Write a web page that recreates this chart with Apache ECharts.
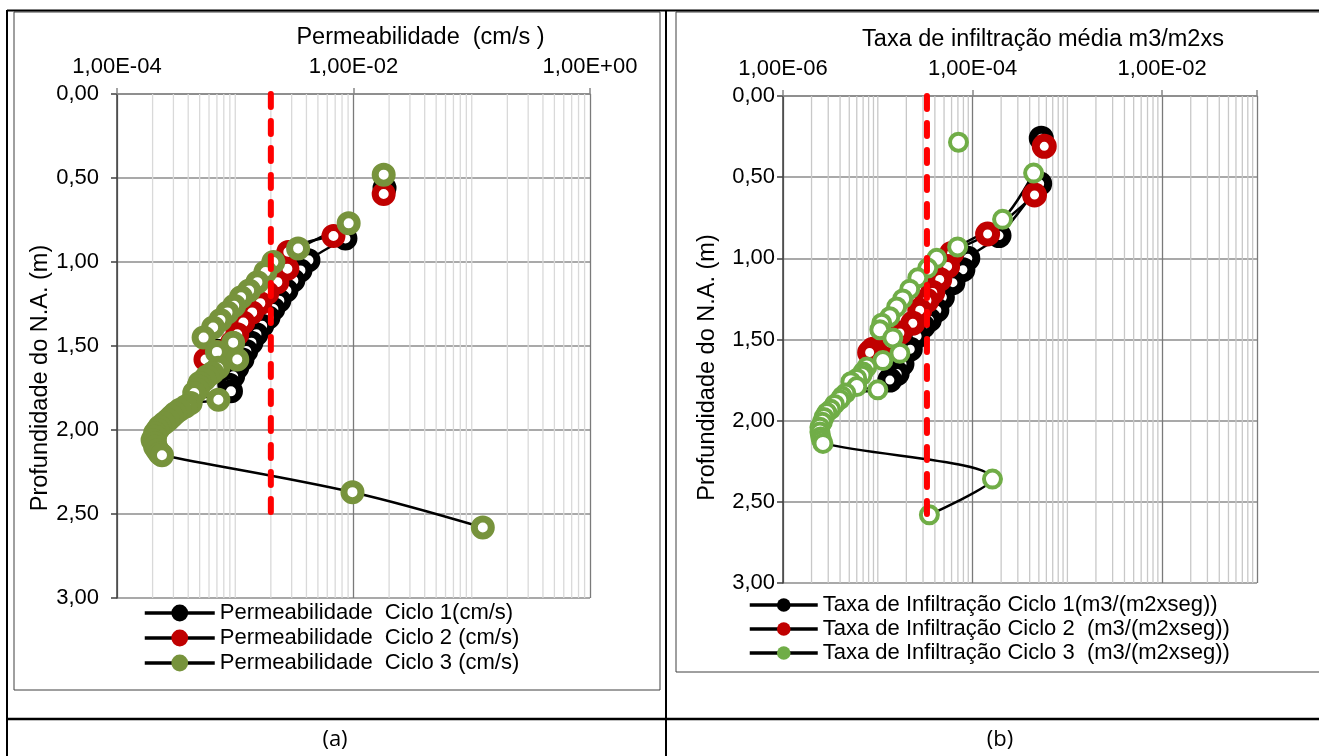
<!DOCTYPE html>
<html>
<head>
<meta charset="utf-8">
<script src="https://cdn.jsdelivr.net/npm/echarts@6/dist/echarts.min.js"></script>
<style>
  html, body { margin: 0; padding: 0; background: #fff; }
  #chart { width: 1319px; height: 756px; }
</style>
</head>
<body>
<div id="chart"></div>
<script>
// Ensaios de infiltração: cada ponto é [valor, profundidade do N.A. (m)].
// null separa um ponto isolado do restante da curva.

// (a) Permeabilidade (cm/s)
const permCiclo1 = [
  [0.0183, 0.56], null,
  [0.00855, 0.86], [0.00416, 0.99], [0.00356, 1.05], [0.00310, 1.11], [0.00271, 1.17],
  [0.00236, 1.23], [0.00210, 1.28], [0.00191, 1.33], [0.00169, 1.38], [0.00151, 1.43],
  [0.00137, 1.48], [0.00124, 1.53], [0.00115, 1.58], [0.00104, 1.63], [0.00096, 1.68],
  [0.00089, 1.73], [0.00092, 1.77]
];
const permCiclo2 = [
  [0.0180, 0.595], null,
  [0.00677, 0.845], [0.00281, 0.94], [0.00276, 1.04], [0.00227, 1.12], [0.00187, 1.185],
  [0.00163, 1.245], [0.00139, 1.30], [0.00117, 1.36], [0.00104, 1.43], [0.00094, 1.48],
  [0.00070, 1.535], [0.00056, 1.58]
];
const permCiclo3 = [
  [0.0180, 0.48], null,
  [0.0091, 0.77], [0.0034, 0.92], [0.0021, 1.00], [0.0018, 1.06], [0.00154, 1.12],
  [0.00131, 1.17], [0.00112, 1.21], [0.00098, 1.26], [0.00086, 1.30], [0.00075, 1.345],
  [0.00065, 1.39], [0.00054, 1.45], [0.00096, 1.48], [0.00070, 1.535], [0.00104, 1.58],
  [0.00072, 1.63], [0.00064, 1.66], [0.00058, 1.68], [0.00055, 1.70], [0.00050, 1.72],
  [0.00049, 1.74], [0.00048, 1.76], [0.00045, 1.78], [0.00072, 1.82], [0.00042, 1.84],
  [0.00038, 1.86], [0.00034, 1.88], [0.00031, 1.90], [0.00029, 1.92], [0.00027, 1.94],
  [0.00025, 1.96], [0.00023, 1.98], [0.00022, 2.00], [0.00021, 2.02], [0.00021, 2.04],
  [0.00020, 2.06], [0.00021, 2.08], [0.00021, 2.10], [0.00022, 2.12], [0.00023, 2.14],
  [0.00024, 2.15],
  [0.0098, 2.37], [0.124, 2.58]
];
const permLimite = [[0.002, 0], [0.002, 2.57]];

// (b) Taxa de infiltração média (m3/(m2 x s))
const taxaCiclo1 = [
  [5.3e-4, 0.26], null,
  [5.1e-4, 0.54], [1.9e-4, 0.86], [8.9e-5, 1.00], [7.9e-5, 1.07], [6.2e-5, 1.15],
  [4.8e-5, 1.24], [4.2e-5, 1.32], [3.5e-5, 1.38], [3.0e-5, 1.42], [2.6e-5, 1.48],
  [2.2e-5, 1.56], [1.8e-5, 1.65], [1.6e-5, 1.71], [1.34e-5, 1.75]
];
const taxaCiclo2 = [
  [5.7e-4, 0.31], null,
  [4.5e-4, 0.61], [1.44e-4, 0.85], [6.0e-5, 0.97], [5.45e-5, 1.05], [4.5e-5, 1.13],
  [3.8e-5, 1.21], [3.3e-5, 1.26], [2.77e-5, 1.32], [2.34e-5, 1.40], [1.71e-5, 1.46],
  [1.34e-5, 1.52], [8.9e-6, 1.56], [8.2e-6, 1.58]
];
const taxaCiclo3 = [
  [7.1e-5, 0.285], null,
  [4.4e-4, 0.475], [2.07e-4, 0.76], [6.95e-5, 0.93], [4.18e-5, 1.00], [3.36e-5, 1.06],
  [2.64e-5, 1.12], [2.17e-5, 1.19], [1.83e-5, 1.25], [1.58e-5, 1.30], [1.34e-5, 1.36],
  [1.10e-5, 1.40], [1.05e-5, 1.44], [1.44e-5, 1.49], [1.71e-5, 1.585], [1.13e-5, 1.63],
  [7.66e-6, 1.67], [7.0e-6, 1.70], [6.8e-6, 1.72], [6.0e-6, 1.74], [5.2e-6, 1.76],
  [6.0e-6, 1.79], [1.0e-5, 1.81], [4.6e-6, 1.83], [4.2e-6, 1.85], [3.98e-6, 1.87],
  [3.5e-6, 1.90], [3.2e-6, 1.93], [2.9e-6, 1.95], [2.7e-6, 1.98], [2.6e-6, 2.01],
  [2.45e-6, 2.04], [2.45e-6, 2.07], [2.5e-6, 2.10], [2.55e-6, 2.12], [2.64e-6, 2.14],
  [1.62e-4, 2.36], [3.5e-5, 2.58]
];
const taxaLimite = [[3.3e-5, 0], [3.3e-5, 2.6]];

const nomesPerm = [
  'Permeabilidade  Ciclo 1(cm/s)',
  'Permeabilidade  Ciclo 2 (cm/s)',
  'Permeabilidade  Ciclo 3 (cm/s)'
];
const nomesTaxa = [
  'Taxa de Infiltração Ciclo 1(m3/(m2xseg))',
  'Taxa de Infiltração Ciclo 2  (m3/(m2xseg))',
  'Taxa de Infiltração Ciclo 3  (m3/(m2xseg))'
];
const depthTicks = [0, 3, 0.5];

const FONT = '"Liberation Sans", Arial, sans-serif';
const C_BLACK = '#000000', C_RED = '#c00000', C_OLIVE = '#77933c', C_GREEN = '#70ad47';

function sciLabel(v) {
  const e = Math.round(Math.log10(v));
  if (e % 2 !== 0) return '';
  return '1,00E' + (e < 0 ? '-' : '+') + String(Math.abs(e)).padStart(2, '0');
}
function depthLabel(v) { return v.toFixed(2).replace('.', ','); }

// light vertical rules at 2..9 of every decade and at the odd decades,
// drawn as broken segments spanning the depth range
function minorRules(minExp, maxExp) {
  const out = [];
  for (let e = minExp; e < maxExp; e++) {
    for (let m = 1; m <= 9; m++) {
      if (m === 1 && e % 2 === 0) continue;
      const v = m * Math.pow(10, e);
      out.push([v, depthTicks[0]], [v, depthTicks[1]], ['-', '-']);
    }
  }
  return out;
}

function xAxisCfg(gi, min, max, title, titleShift) {
  return {
    gridIndex: gi, type: 'log', logBase: 10, min: min, max: max, interval: 2,
    position: 'top',
    name: title, nameLocation: 'middle', nameGap: 44,
    nameTextStyle: { fontFamily: FONT, fontSize: 23.5, color: '#000', padding: [0, 0, 0, titleShift] },
    axisLine: { show: true, lineStyle: { color: '#868686', width: 1.5 } },
    axisTick: { show: true, length: 6, lineStyle: { color: '#868686', width: 1.5 } },
    axisLabel: { formatter: sciLabel, fontFamily: FONT, fontSize: 22, color: '#000', margin: 16, showMaxLabel: true },
    splitLine: { show: true, lineStyle: { color: '#7a7a7a', width: 1.3 } },
    minorTick: { show: false }, minorSplitLine: { show: false }
  };
}
function yAxisCfg(gi, shift, margin) {
  return {
    gridIndex: gi, type: 'value', inverse: true,
    min: depthTicks[0], max: depthTicks[1], interval: depthTicks[2],
    name: 'Profundidade do N.A. (m)', nameLocation: 'middle', nameRotate: 90, nameGap: 63,
    nameTextStyle: { fontFamily: FONT, fontSize: 23.5, color: '#000', padding: [0, shift, 0, 0] },
    axisLine: { show: true, lineStyle: { color: '#404040', width: 1.5 } },
    axisTick: { show: true, length: 6, lineStyle: { color: '#404040', width: 1.5 } },
    axisLabel: { formatter: depthLabel, fontFamily: FONT, fontSize: 22, color: '#000', margin: margin },
    splitLine: { show: true, lineStyle: { color: '#8c8c8c', width: 1.5 } }
  };
}

function cycleSeries(name, data, gi, color, size, border) {
  return {
    name: name, type: 'line', xAxisIndex: gi, yAxisIndex: gi,
    data: data.map(p => p ? p : ['-', '-']),
    smooth: 0.35, connectNulls: false,
    symbol: 'circle', symbolSize: size, showAllSymbol: true,
    lineStyle: { color: '#000', width: 2.5 },
    itemStyle: { color: '#ffffff', borderColor: color, borderWidth: border },
    emphasis: { disabled: true },
    z: 3, animation: false
  };
}
function gridSeries(gi, minExp, maxExp, color) {
  return {
    name: 'grade' + gi, type: 'line', xAxisIndex: gi, yAxisIndex: gi,
    data: minorRules(minExp, maxExp), connectNulls: false,
    symbol: 'none', silent: true, z: 1, animation: false,
    lineStyle: { color: color, width: 1.3 }
  };
}
function limitSeries(data, gi) {
  return {
    name: 'limite' + gi, type: 'line', xAxisIndex: gi, yAxisIndex: gi, data: data,
    symbol: 'none', silent: true, z: 5, animation: false,
    lineStyle: { color: '#ff0000', width: 6, type: [13, 14], cap: 'round' }
  };
}

function legendCfg(names, colors, left, top, w, h, gap) {
  return {
    orient: 'vertical', left: left, top: top, itemWidth: w, itemHeight: h, itemGap: gap,
    selectedMode: false, padding: 0, align: 'left',
    textStyle: { fontFamily: FONT, fontSize: 22, color: '#000' },
    data: names.map((n, i) => ({
      name: n,
      itemStyle: { color: colors[i], borderWidth: 0 },
      lineStyle: { color: '#000', width: 3.5 }
    }))
  };
}

const chart = echarts.init(document.getElementById('chart'), null, { renderer: 'canvas' });
chart.setOption({
  animation: false,
  backgroundColor: '#ffffff',
  grid: [
    { left: 117, top: 94, width: 473, height: 504, containLabel: false },
    { left: 783, top: 96, width: 474, height: 487, containLabel: false }
  ],
  xAxis: [
    xAxisCfg(0, 1e-4, 1, 'Permeabilidade  (cm/s )', 134),
    xAxisCfg(1, 1e-6, 1e-1, 'Taxa de infiltração média m3/m2xs', 46)
  ],
  yAxis: [yAxisCfg(0, 64, 18), yAxisCfg(1, 56, 8)],
  legend: [
    legendCfg(nomesPerm, [C_BLACK, C_RED, C_OLIVE], 143, 602, 70, 21, 3),
    legendCfg(nomesTaxa, [C_BLACK, C_RED, C_GREEN], 748, 594, 68, 17, 2)
  ],
  series: [
    gridSeries(0, -4, 0, '#d9d9d9'),
    gridSeries(1, -6, -1, '#c8c8c8'),
    cycleSeries(nomesPerm[0], permCiclo1, 0, C_BLACK, 17, 7),
    cycleSeries(nomesPerm[1], permCiclo2, 0, C_RED, 17, 7),
    cycleSeries(nomesPerm[2], permCiclo3, 0, C_OLIVE, 17, 7),
    limitSeries(permLimite, 0),
    cycleSeries(nomesTaxa[0], taxaCiclo1, 1, C_BLACK, 17, 8),
    cycleSeries(nomesTaxa[1], taxaCiclo2, 1, C_RED, 17, 8),
    cycleSeries(nomesTaxa[2], taxaCiclo3, 1, C_GREEN, 17, 4),
    limitSeries(taxaLimite, 1)
  ],
  graphic: [
    // chart frames
    { type: 'rect', shape: { x: 14, y: 12, width: 646, height: 678 }, style: { fill: 'none', stroke: '#404040', lineWidth: 1 }, z: -1 },
    { type: 'rect', shape: { x: 676, y: 12, width: 660, height: 660 }, style: { fill: 'none', stroke: '#404040', lineWidth: 1 }, z: -1 },
    // table rules
    { type: 'line', shape: { x1: 7, y1: 10.5, x2: 1319, y2: 10.5 }, style: { stroke: '#000', lineWidth: 2 } },
    { type: 'line', shape: { x1: 7, y1: 10, x2: 7, y2: 756 }, style: { stroke: '#000', lineWidth: 2 } },
    { type: 'line', shape: { x1: 666, y1: 10, x2: 666, y2: 756 }, style: { stroke: '#000', lineWidth: 2 } },
    { type: 'line', shape: { x1: 7, y1: 719, x2: 1319, y2: 719 }, style: { stroke: '#000', lineWidth: 2.5 } },
    { type: 'text', x: 335, y: 740, style: { text: '(a)', font: '22px "Open Sans", sans-serif', fill: '#000', align: 'center', verticalAlign: 'middle' } },
    { type: 'text', x: 1000, y: 740, style: { text: '(b)', font: '22px "Open Sans", sans-serif', fill: '#000', align: 'center', verticalAlign: 'middle' } }
  ]
});
</script>
</body>
</html>
